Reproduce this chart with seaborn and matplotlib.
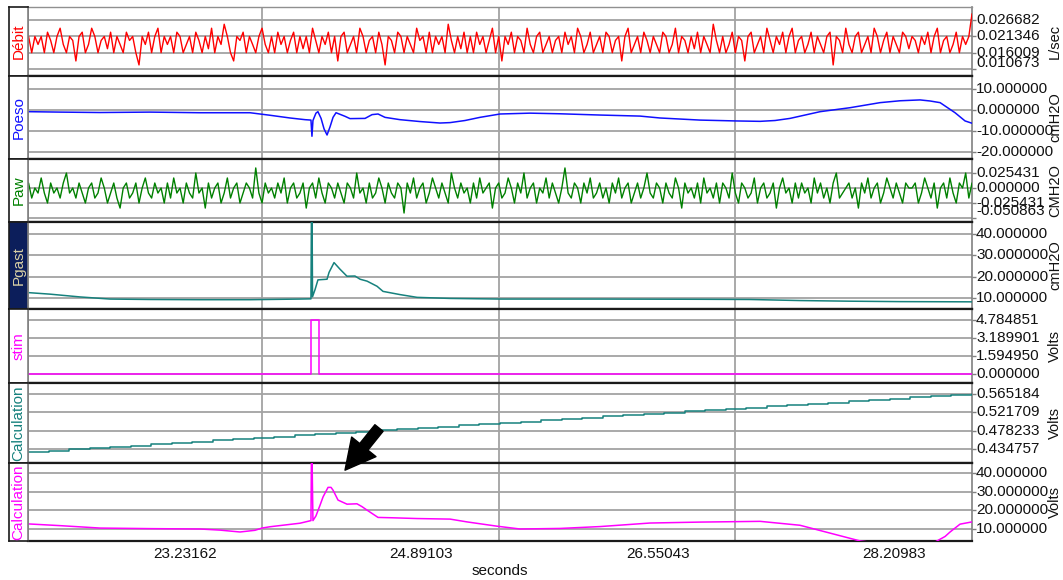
import numpy as np
import matplotlib
matplotlib.use("Agg")
import matplotlib.pyplot as plt
import matplotlib.transforms as mtransforms
import seaborn as sns

sns.set_style("white")
plt.rcParams["font.family"] = ["Liberation Sans", "DejaVu Sans"]

# ---------------------------------------------------------------- data
T_START, T_END = 22.129, 28.758
x_tick_values = [23.23162, 24.89103, 26.55043, 28.20983]
x_tick_labels = ["23.23162", "24.89103", "26.55043", "28.20983"]
x_grid_values = [23.775, 25.434, 27.094]

debit_values = [
    0.0213, 0.0160, 0.0213, 0.0187, 0.0213, 0.0160, 0.0227, 0.0200, 0.0160, 0.0213, 0.0240, 0.0187, 0.0160, 0.0213, 0.0200, 0.0133, 0.0213, 0.0227, 0.0160, 0.0187,
    0.0240, 0.0213, 0.0160, 0.0200, 0.0213, 0.0173, 0.0227, 0.0160, 0.0213, 0.0187, 0.0160, 0.0227, 0.0200, 0.0213, 0.0160, 0.0120, 0.0213, 0.0187, 0.0227, 0.0160,
    0.0213, 0.0240, 0.0160, 0.0213, 0.0187, 0.0213, 0.0160, 0.0227, 0.0213, 0.0160, 0.0187, 0.0213, 0.0160, 0.0227, 0.0200, 0.0160, 0.0213, 0.0173, 0.0240, 0.0160,
    0.0213, 0.0187, 0.0253, 0.0213, 0.0160, 0.0133, 0.0213, 0.0200, 0.0227, 0.0160, 0.0213, 0.0187, 0.0160, 0.0213, 0.0240, 0.0187, 0.0160, 0.0213, 0.0160, 0.0227,
    0.0187, 0.0213, 0.0160, 0.0200, 0.0227, 0.0160, 0.0213, 0.0173, 0.0213, 0.0160, 0.0240, 0.0200, 0.0160, 0.0213, 0.0187, 0.0227, 0.0160, 0.0213, 0.0133, 0.0213,
    0.0227, 0.0160, 0.0187, 0.0213, 0.0160, 0.0240, 0.0213, 0.0160, 0.0200, 0.0213, 0.0160, 0.0227, 0.0187, 0.0120, 0.0213, 0.0200, 0.0160, 0.0227, 0.0213, 0.0160,
    0.0213, 0.0187, 0.0160, 0.0240, 0.0200, 0.0213, 0.0160, 0.0227, 0.0160, 0.0213, 0.0187, 0.0213, 0.0160, 0.0253, 0.0200, 0.0160, 0.0213, 0.0173, 0.0227, 0.0160,
    0.0213, 0.0160, 0.0227, 0.0187, 0.0213, 0.0160, 0.0200, 0.0240, 0.0160, 0.0213, 0.0133, 0.0213, 0.0187, 0.0227, 0.0160, 0.0213, 0.0200, 0.0160, 0.0240, 0.0187,
    0.0160, 0.0213, 0.0227, 0.0160, 0.0187, 0.0213, 0.0160, 0.0200, 0.0213, 0.0160, 0.0227, 0.0187, 0.0213, 0.0160, 0.0240, 0.0213, 0.0160, 0.0187, 0.0227, 0.0160,
    0.0187, 0.0213, 0.0160, 0.0227, 0.0213, 0.0160, 0.0200, 0.0213, 0.0133, 0.0213, 0.0240, 0.0160, 0.0187, 0.0213, 0.0160, 0.0227, 0.0200, 0.0160, 0.0213, 0.0187,
    0.0160, 0.0227, 0.0213, 0.0160, 0.0187, 0.0240, 0.0160, 0.0213, 0.0200, 0.0160, 0.0213, 0.0173, 0.0227, 0.0160, 0.0213, 0.0187, 0.0160, 0.0253, 0.0200, 0.0160,
    0.0213, 0.0160, 0.0187, 0.0227, 0.0160, 0.0213, 0.0200, 0.0133, 0.0213, 0.0227, 0.0160, 0.0187, 0.0213, 0.0160, 0.0240, 0.0200, 0.0160, 0.0213, 0.0187, 0.0227,
    0.0160, 0.0213, 0.0240, 0.0160, 0.0200, 0.0213, 0.0160, 0.0187, 0.0227, 0.0160, 0.0213, 0.0187, 0.0160, 0.0213, 0.0227, 0.0120, 0.0213, 0.0200, 0.0160, 0.0240,
    0.0187, 0.0160, 0.0213, 0.0227, 0.0160, 0.0187, 0.0213, 0.0160, 0.0240, 0.0213, 0.0160, 0.0200, 0.0227, 0.0160, 0.0213, 0.0187, 0.0160, 0.0227, 0.0213, 0.0173,
    0.0213, 0.0200, 0.0160, 0.0213, 0.0187, 0.0227, 0.0160, 0.0213, 0.0240, 0.0160, 0.0200, 0.0213, 0.0160, 0.0187, 0.0227, 0.0160, 0.0213, 0.0187, 0.0213, 0.0287,
]

paw_values = [
    0.0085, -0.0170, 0.0000, -0.0085, 0.0170, -0.0085, -0.0254, 0.0085, -0.0085, 0.0000, -0.0170, 0.0085, 0.0254, -0.0085, 0.0000, -0.0170, 0.0085, -0.0085, -0.0254, 0.0000,
    0.0085, -0.0170, -0.0085, 0.0170, 0.0000, -0.0254, -0.0085, 0.0085, -0.0170, -0.0340, 0.0000, 0.0085, -0.0170, -0.0085, 0.0085, -0.0254, 0.0000, 0.0170, -0.0085, -0.0170,
    0.0085, -0.0085, 0.0000, -0.0254, 0.0085, -0.0170, 0.0170, -0.0085, 0.0000, -0.0254, 0.0085, -0.0085, -0.0170, 0.0254, -0.0085, 0.0000, -0.0340, 0.0085, -0.0170, 0.0000,
    0.0085, -0.0254, -0.0085, 0.0170, -0.0170, 0.0000, 0.0085, -0.0254, -0.0085, 0.0085, 0.0000, -0.0170, 0.0340, -0.0085, -0.0254, 0.0085, -0.0085, 0.0000, -0.0170, 0.0085,
    -0.0085, 0.0170, -0.0254, 0.0000, 0.0085, -0.0170, -0.0085, 0.0085, -0.0340, 0.0000, 0.0085, -0.0170, 0.0170, -0.0085, -0.0254, 0.0085, 0.0000, -0.0170, 0.0085, -0.0085,
    -0.0254, 0.0085, 0.0000, -0.0170, 0.0254, -0.0085, 0.0000, -0.0254, 0.0085, -0.0170, -0.0085, 0.0170, 0.0000, -0.0254, 0.0085, -0.0085, -0.0170, 0.0085, 0.0000, -0.0424,
    0.0085, -0.0085, 0.0170, -0.0170, 0.0000, 0.0085, -0.0254, -0.0085, 0.0170, 0.0000, -0.0170, 0.0085, -0.0085, -0.0254, 0.0254, 0.0000, -0.0170, 0.0085, -0.0085, 0.0000,
    -0.0254, 0.0085, -0.0170, 0.0170, -0.0085, 0.0000, 0.0085, -0.0340, 0.0000, 0.0085, -0.0170, -0.0085, 0.0170, 0.0000, -0.0254, 0.0085, -0.0085, 0.0254, -0.0170, 0.0000,
    0.0085, -0.0254, 0.0000, -0.0085, 0.0170, -0.0170, 0.0085, -0.0085, -0.0254, 0.0000, 0.0340, -0.0085, -0.0170, 0.0085, 0.0000, -0.0254, 0.0085, -0.0085, 0.0170, -0.0170,
    -0.0085, 0.0085, -0.0170, 0.0000, -0.0254, 0.0085, -0.0085, 0.0170, -0.0170, 0.0000, 0.0085, -0.0254, -0.0085, 0.0085, -0.0170, 0.0000, 0.0254, -0.0085, -0.0170, 0.0085,
    0.0000, -0.0254, 0.0085, -0.0085, -0.0170, 0.0170, 0.0000, -0.0340, 0.0085, -0.0085, 0.0000, -0.0170, 0.0085, -0.0254, 0.0170, -0.0085, 0.0000, -0.0170, 0.0085, -0.0254,
    0.0085, 0.0000, -0.0170, 0.0254, -0.0085, -0.0254, 0.0085, 0.0000, -0.0170, -0.0085, 0.0170, -0.0254, 0.0000, 0.0085, -0.0170, -0.0085, 0.0085, -0.0340, 0.0000, 0.0170,
    -0.0085, 0.0000, -0.0254, 0.0085, -0.0170, 0.0085, -0.0085, 0.0000, -0.0254, 0.0170, -0.0085, 0.0085, -0.0170, 0.0000, -0.0254, 0.0085, 0.0254, -0.0170, -0.0085, 0.0000,
    0.0085, -0.0170, 0.0000, -0.0340, 0.0085, -0.0085, 0.0170, -0.0170, 0.0000, 0.0085, -0.0254, -0.0085, 0.0170, 0.0000, -0.0170, 0.0085, -0.0085, -0.0254, 0.0085, 0.0000,
    0.0000, 0.0085, -0.0254, -0.0085, 0.0170, 0.0000, -0.0170, 0.0085, -0.0340, 0.0000, 0.0085, -0.0170, 0.0170, -0.0085, -0.0254, 0.0085, 0.0000, 0.0254, -0.0170, 0.0085,
]

poeso_times = [22.136, 22.354, 22.635, 22.986, 23.337, 23.688, 23.828, 23.969, 24.074, 24.116,
               24.123, 24.130, 24.151, 24.165, 24.187, 24.208, 24.229, 24.250, 24.271, 24.292,
               24.355, 24.390, 24.496, 24.545, 24.587, 24.636, 24.741, 24.882, 25.022, 25.093,
               25.198, 25.303, 25.444, 25.654, 25.865, 26.146, 26.427, 26.567, 26.848, 27.094,
               27.270, 27.375, 27.480, 27.691, 27.902, 28.112, 28.253, 28.393, 28.463, 28.534,
               28.639, 28.709, 28.758]
poeso_values = [-0.8, -1.0, -1.2, -1.0, -1.3, -1.3, -2.5, -3.8, -4.6, -4.8,
                -12.5, -5.0, -1.5, -0.8, -4.0, -9.0, -11.9, -8.0, -3.5, -1.3,
                -3.0, -4.1, -4.0, -2.2, -1.9, -3.5, -4.6, -5.5, -6.2, -6.0,
                -5.0, -3.5, -1.9, -1.5, -1.8, -2.4, -2.9, -3.8, -4.8, -5.2,
                -5.4, -5.0, -4.0, -0.8, 1.1, 3.5, 4.4, 4.8, 4.3, 3.5,
                -1.3, -5.2, -6.3]

pgast_times = [22.136, 22.284, 22.494, 22.705, 22.986, 23.337, 23.688, 24.039, 24.116, 24.119,
               24.124, 24.127, 24.145, 24.165, 24.229, 24.243, 24.278, 24.320, 24.369, 24.425,
               24.461, 24.510, 24.580, 24.622, 24.741, 24.861, 25.093, 25.444, 26.146, 26.848,
               27.199, 27.550, 27.902, 28.253, 28.758]
pgast_values = [12.5, 11.8, 10.5, 9.5, 9.3, 9.2, 9.2, 9.5, 9.6, 46.0,
                46.0, 10.6, 14.0, 18.5, 18.8, 22.0, 26.6, 23.5, 20.2, 20.3,
                18.8, 17.9, 15.5, 13.1, 11.6, 10.3, 9.8, 9.5, 9.5, 9.4,
                9.3, 8.8, 8.5, 8.3, 8.2]

stim_times = [22.129, 24.118, 24.118, 24.170, 24.170, 28.758]
stim_values = [0.0, 0.0, 4.784851, 4.784851, 0.0, 0.0]

calc1_steps = [0.428, 0.431, 0.434, 0.437, 0.440, 0.443, 0.446, 0.449, 0.452, 0.455,
               0.458, 0.461, 0.464, 0.467, 0.470, 0.473, 0.476, 0.479, 0.482, 0.485,
               0.488, 0.491, 0.494, 0.497, 0.500, 0.503, 0.506, 0.509, 0.512, 0.515,
               0.518, 0.521, 0.524, 0.527, 0.530, 0.533, 0.536, 0.539, 0.542, 0.545,
               0.548, 0.551, 0.554, 0.557, 0.560, 0.563, 0.565]

calc2_times = [22.136, 22.354, 22.635, 22.986, 23.337, 23.477, 23.618, 23.723, 23.772, 23.828,
               24.039, 24.116, 24.119, 24.124, 24.130, 24.151, 24.180, 24.201, 24.236, 24.257,
               24.271, 24.306, 24.369, 24.439, 24.474, 24.510, 24.587, 24.692, 24.861, 25.093,
               25.212, 25.423, 25.584, 25.865, 26.146, 26.497, 26.848, 27.270, 27.550, 27.761,
               27.972, 28.253, 28.498, 28.569, 28.604, 28.674, 28.758]
calc2_values = [12.7, 11.8, 10.5, 10.2, 10.0, 9.4, 8.4, 9.3, 10.5, 11.2,
                13.1, 14.5, 46.0, 46.0, 14.5, 17.0, 22.8, 27.2, 32.3, 32.3,
                30.8, 25.5, 23.3, 23.5, 22.0, 20.1, 16.2, 16.0, 15.6, 15.3,
                13.8, 11.5, 10.0, 10.3, 11.3, 13.2, 13.7, 14.1, 12.0, 7.8,
                3.6, 1.0, 3.0, 6.0, 8.4, 12.6, 13.8]

# ---------------------------------------------------------------- panels
debit_t = np.linspace(T_START + 0.004, T_END, len(debit_values))
paw_t = np.linspace(T_START + 0.004, T_END, len(paw_values))
calc1_t = np.linspace(T_START, T_END, len(calc1_steps))

TEAL = "#16817d"
panels = [
    dict(name="Débit", color="#ff0000", unit="L/sec", t=debit_t, v=debit_values,
         ticks=[0.010673, 0.016009, 0.021346, 0.026682],
         labels=["0.010673", "0.016009", "0.021346", "0.026682"],
         ylim=(0.008386, 0.03093), px=(7, 76), shift0=6, lw=1.0),
    dict(name="Poeso", color="#1010ff", unit="cmH2O", t=poeso_times, v=poeso_values,
         ticks=[-20, -10, 0, 10],
         labels=["-20.000000", "-10.000000", "0.000000", "10.000000"],
         ylim=(-23.33, 16.19), px=(76, 159), shift0=0),
    dict(name="Paw", color="#008000", unit="CMH2O", t=paw_t, v=paw_values,
         ticks=[-0.050863, -0.025431, 0.0, 0.025431],
         labels=["-0.050863", "-0.025431", "0.000000", "0.025431"],
         ylim=(-0.0576, 0.04917), px=(159, 222), shift0=7, lw=1.0),
    dict(name="Pgast", color=TEAL, unit="cmH2O", t=pgast_times, v=pgast_values,
         ticks=[10, 20, 30, 40],
         labels=["10.000000", "20.000000", "30.000000", "40.000000"],
         ylim=(4.84, 45.63), px=(222, 309), shift0=0, dark=True),
    dict(name="stim", color="#ff00ff", unit="Volts", t=stim_times, v=stim_values,
         ticks=[0.0, 1.594950, 3.189901, 4.784851],
         labels=["0.000000", "1.594950", "3.189901", "4.784851"],
         ylim=(-0.797, 5.76), px=(309, 383), shift0=0),
    dict(name="Calculation", color=TEAL, unit="Volts", t=calc1_t, v=calc1_steps,
         ticks=[0.434757, 0.478233, 0.521709, 0.565184],
         labels=["0.434757", "0.478233", "0.521709", "0.565184"],
         ylim=(0.4016, 0.5913), px=(383, 463), shift0=0, steps=True),
    dict(name="Calculation", color="#ff00ff", unit="Volts", t=calc2_times, v=calc2_values,
         ticks=[10, 20, 30, 40],
         labels=["10.000000", "20.000000", "30.000000", "40.000000"],
         ylim=(3.57, 45.36), px=(463, 541), shift0=0),
]

W, H = 1063, 580
fig = plt.figure(figsize=(W / 100, H / 100), dpi=100)
LEFT, RIGHT = 28, 972
GRID = "#a3a3a3"

axes = []
for i, p in enumerate(panels):
    top, bot = p["px"]
    ax = fig.add_axes([LEFT / W, 1 - bot / H, (RIGHT - LEFT) / W, (bot - top) / H])
    axes.append(ax)
    kw = dict(drawstyle="steps-post") if p.get("steps") else {}
    sns.lineplot(x=np.asarray(p["t"]), y=np.asarray(p["v"]), ax=ax, color=p["color"],
                 lw=p.get("lw", 1.1), estimator=None, sort=False, zorder=3, **kw)
    ax.set_xlim(T_START, T_END)
    ax.set_ylim(*p["ylim"])
    ax.set_yticks(p["ticks"])
    ax.set_yticklabels([])
    ax.yaxis.tick_right()
    ax.tick_params(axis="y", which="major", length=3, width=1, color="#808080", direction="out")
    ax.grid(True, axis="y", color=GRID, lw=1.3, zorder=0)
    ax.set_xticks(x_grid_values, minor=True)
    ax.grid(True, axis="x", which="minor", color=GRID, lw=1.3, zorder=0)
    ax.grid(False, axis="x", which="major")
    ax.tick_params(axis="x", which="both", length=0)
    ax.set_xlabel("")
    ax.set_ylabel("")
    if i < len(panels) - 1:
        ax.set_xticks(x_tick_values)
        ax.set_xticklabels([])
    for s in ("left", "right"):
        ax.spines[s].set_color("#808080")
        ax.spines[s].set_linewidth(1.2)
    ax.spines["top"].set_color("#1a1a1a" if i > 0 else "#909090")
    ax.spines["top"].set_linewidth(1.6 if i > 0 else 1.0)
    ax.spines["bottom"].set_color("#1a1a1a")
    ax.spines["bottom"].set_linewidth(1.6)

    # right-hand tick labels
    trans = mtransforms.blended_transform_factory(ax.transAxes, ax.transData)
    for j, (tv, tl) in enumerate(zip(p["ticks"], p["labels"])):
        dy = p["shift0"] if j == 0 else 0
        off = mtransforms.ScaledTranslation(4 / 100, dy / 100, fig.dpi_scale_trans)
        ax.text(1.0, tv, tl, transform=trans + off, ha="left", va="center",
                fontsize=11, color="#111111", clip_on=False)

    # unit label on the far right
    fig.text(1055 / W, 1 - (top + bot) / 2 / H, p["unit"], rotation=90,
             ha="center", va="center", fontsize=10.5, color="#111111")

    # channel name box on the left
    lab = fig.add_axes([9 / W, 1 - bot / H, (LEFT - 9) / W, (bot - top) / H])
    lab.set_xticks([])
    lab.set_yticks([])
    dark = p.get("dark", False)
    lab.set_facecolor("#0c1e5b" if dark else "white")
    for s in lab.spines.values():
        s.set_color("#1a1a1a")
        s.set_linewidth(1.2)
    lab.spines["right"].set_color("#808080")
    lab.text(0.5, 0.5, p["name"], rotation=90, ha="center", va="center",
             fontsize=11, color="#d9d0a6" if dark else p["color"],
             transform=lab.transAxes)

last = axes[-1]
last.set_xticks(x_tick_values)
last.set_xticklabels(x_tick_labels, fontsize=11, color="#111111")
last.tick_params(axis="x", which="major", length=0, pad=4)
fig.text(500 / W, 1 - 571 / H, "seconds", ha="center", va="center", fontsize=11, color="#111111")

# black arrow pointing at the peak of the bottom trace
last.annotate("", xy=(24.355, 41.5), xycoords="data",
              xytext=(379, H - 428), textcoords="figure pixels",
              arrowprops=dict(arrowstyle="simple,head_length=1.2,head_width=1.25,tail_width=0.42",
                              mutation_scale=18, color="black", shrinkA=0, shrinkB=0),
              annotation_clip=False, zorder=10)

fig.savefig("out.png", dpi=100)
